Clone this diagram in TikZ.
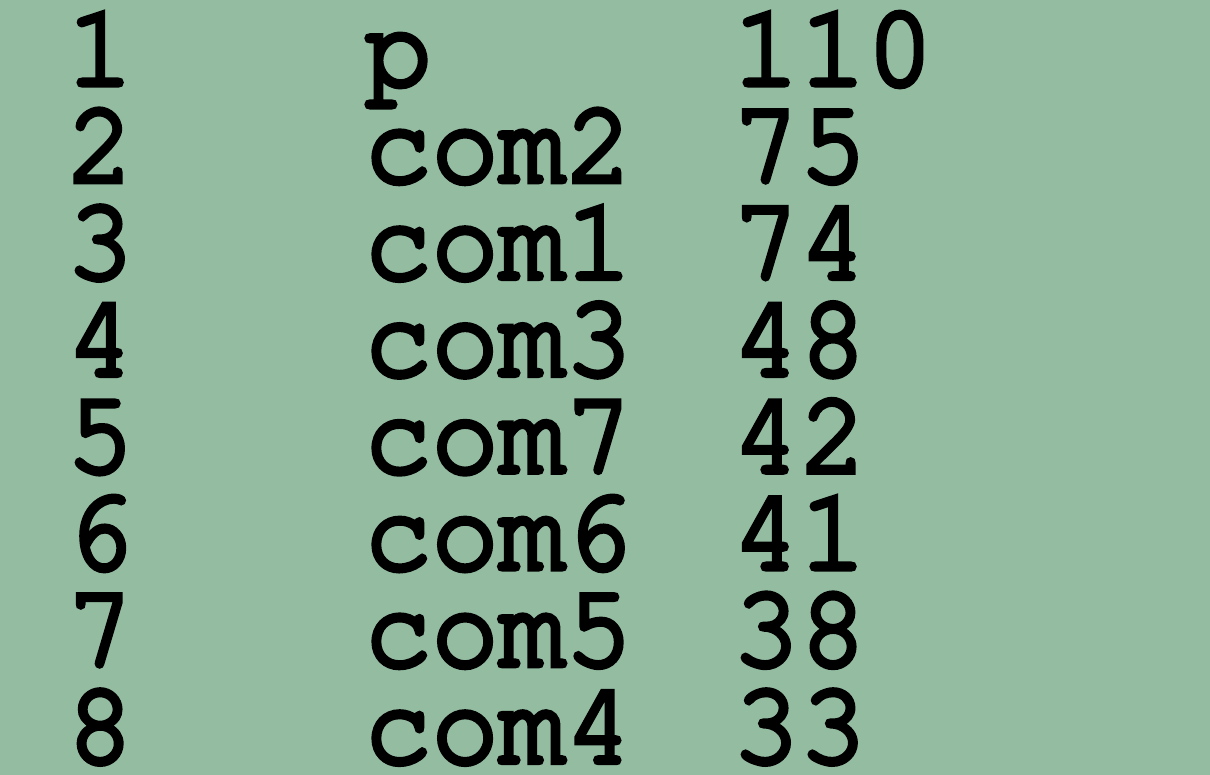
\documentclass[tikz,border=0pt]{standalone}
\usepackage{fontspec}
\setmonofont{TeX Gyre Cursor}[FakeBold=4.5,FakeStretch=0.947]
\definecolor{tablegreen}{RGB}{148,188,161}
\tikzset{cell/.style={anchor=base west,inner sep=0pt,font=\ttfamily\fontsize{33.5}{40}\selectfont}}
\begin{document}
\begin{tikzpicture}[x=1cm,y=1cm]
	\fill[tablegreen] (0,0) rectangle (12.1,7.75);
	\useasboundingbox (0,0) rectangle (12.1,7.75);
	\foreach \i/\n/\c in {1/p/110,2/com2/75,3/com1/74,4/com3/48,5/com7/42,6/com6/41,7/com5/38,8/com4/33}{
		\node[cell] (rank\i) at (0.66,{6.9-0.968*(\i-1)}) {\i};
		\node[cell] (name\i) at (3.64,{6.9-0.968*(\i-1)}) {\n};
		\node[cell] (count\i) at (7.32,{6.9-0.968*(\i-1)}) {\c};
	}
\end{tikzpicture}
\end{document}
